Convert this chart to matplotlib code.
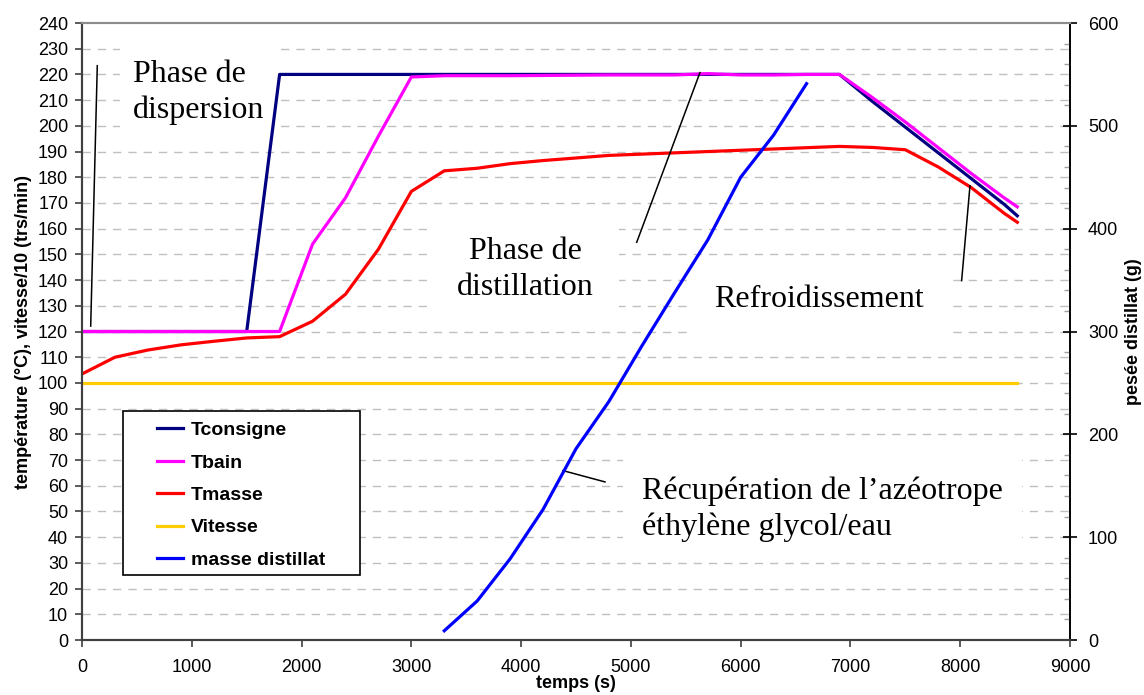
import matplotlib.pyplot as plt
from matplotlib.lines import Line2D
from matplotlib.patches import Rectangle
from matplotlib.ticker import MultipleLocator

# temps (s) pour les températures / vitesse
temps = [0, 300, 600, 900, 1200, 1500, 1800, 2100, 2400, 2700, 3000, 3300, 3600,
         3900, 4200, 4500, 4800, 5100, 5400, 5700, 6000, 6300, 6600, 6900, 7200,
         7500, 7800, 8100, 8400, 8520]
t_consigne = [120, 120, 120, 120, 120, 120, 220, 220, 220, 220, 220, 220, 220,
              220, 220, 220, 220, 220, 220, 220, 220, 220, 220, 220, 209.5,
              199.5, 189.5, 179.5, 169.5, 165]
t_bain = [120, 120, 120, 120, 120, 120, 120, 154, 172, 196, 219, 219.5, 219.5,
          219.5, 219.6, 219.7, 219.8, 219.8, 219.8, 220.3, 219.8, 219.8, 220,
          220, 211, 201.5, 191.5, 181.5, 172, 168.5]
t_masse = [103.5, 110, 112.8, 114.8, 116.2, 117.5, 118, 124, 134.5, 152, 174.5,
           182.5, 183.5, 185.3, 186.5, 187.5, 188.5, 189, 189.5, 190, 190.5,
           191, 191.5, 192, 191.6, 190.7, 184, 176, 166, 162.5]
vitesse = [100] * len(temps)

# pesée du distillat (g)
temps_dist = [3300, 3600, 3900, 4200, 4500, 4800, 5100, 5400, 5700, 6000, 6300, 6600]
masse_dist = [9, 38, 79, 127, 186, 232, 286, 338, 389, 450, 491, 541]

# annotations : texte, position (ligne de base de la dernière ligne), alignement, marge
notes = [
    ("Phase de\ndispersion", 465, 203.0, "left", 0.4),
    ("Phase de\ndistillation", 4035, 134.2, "center", 0.8),
    ("Refroidissement", 5757, 129.5, "left", 0.75),
    ("Récupération de l’azéotrope\néthylène glycol/eau", 5099, 40.8, "left", 0.6),
]
leaders = [
    ((139, 79), (223.4, 122.1)),
    ((5629, 5053), (220.7, 154.7)),
    ((8089, 8013), (176.7, 139.8)),
    ((4381, 4764), (65.9, 61.5)),
]

sans = "Liberation Sans"
serif = "Liberation Serif"
plt.rcParams["font.family"] = [sans, "DejaVu Sans"]

fig = plt.figure(figsize=(11.44, 6.95), dpi=100)
ax = fig.add_axes([0.0717, 0.0791, 0.8636, 0.8878])
ax2 = ax.twinx()

lw = 2.3
ax.plot(temps, t_consigne, color="#000080", lw=lw, zorder=2)
ax.plot(temps, t_bain, color="#FF00FF", lw=lw, zorder=2.1)
ax.plot(temps, t_masse, color="#FF0000", lw=lw, zorder=2.2)
ax.plot(temps, vitesse, color="#FFCC00", lw=lw, zorder=2.3)
ax2.plot(temps_dist, masse_dist, color="#0000FF", lw=lw)

ax.set_xlim(0, 9000)
ax.set_ylim(0, 240)
ax2.set_ylim(0, 600)
ax.xaxis.set_major_locator(MultipleLocator(1000))
ax.yaxis.set_major_locator(MultipleLocator(10))
ax2.yaxis.set_major_locator(MultipleLocator(100))
ax2.yaxis.set_minor_locator(MultipleLocator(20))

# grille horizontale en pointillés
for v in range(10, 240, 10):
    ax.axhline(v, color="#c0c0c0", lw=1, dashes=(6, 5), zorder=0.5)

ax.tick_params(axis="y", direction="out", length=5, width=1.2, color="#404040",
               labelsize=13, pad=5)
ax.tick_params(axis="x", direction="out", length=5, width=1.2, color="#404040",
               labelsize=13, pad=9)
ax2.tick_params(axis="y", which="major", direction="inout", length=10, width=1.2,
                color="black", labelsize=13, pad=8)
ax2.tick_params(axis="y", which="minor", direction="in", length=4, width=1,
                color="#a0a0a0")

for a in (ax, ax2):
    a.spines["left"].set_color("#404040")
    a.spines["left"].set_linewidth(1.5)
    a.spines["bottom"].set_color("#404040")
    a.spines["bottom"].set_linewidth(1.5)
    a.spines["top"].set_color("#8c8c8c")
    a.spines["top"].set_linewidth(1.5)
    a.spines["right"].set_color("black")
    a.spines["right"].set_linewidth(1.2)

ax.set_xlabel("temps (s)", fontsize=13, fontweight="bold", labelpad=-1)
ax.set_ylabel("température (°C), vitesse/10 (trs/min)", fontsize=13,
              fontweight="bold", labelpad=4)
ax2.set_ylabel("pesée distillat (g)", fontsize=13, fontweight="bold", labelpad=5)

# textes des phases sur fond blanc
for txt, x, y, ha, pad in notes:
    ax.text(x, y, txt, ha=ha, va="baseline", multialignment=ha,
            family=[serif, "DejaVu Serif"], fontsize=23, linespacing=1.3,
            zorder=1.5,
            bbox=dict(boxstyle=f"square,pad={pad}", facecolor="white",
                      edgecolor="none"))
for xs, ys in leaders:
    ax.plot(xs, ys, color="black", lw=1.1, zorder=3)

# légende encadrée
ax.add_patch(Rectangle((0.0415, 0.105), 0.2395, 0.266, transform=ax.transAxes,
                       facecolor="white", edgecolor="black", lw=1.2, zorder=5))
handles = [Line2D([], [], color=c, lw=lw) for c in
           ("#000080", "#FF00FF", "#FF0000", "#FFCC00", "#0000FF")]
labels = ["Tconsigne", "Tbain", "Tmasse", "Vitesse", "masse distillat"]
leg = ax.legend(handles, labels, loc="upper left", bbox_to_anchor=(0.0759, 0.354),
                frameon=False, borderpad=0, borderaxespad=0, handlelength=1.35,
                handletextpad=0.4, labelspacing=0.76,
                prop=dict(family=sans, weight="bold", size=14))
leg.set_zorder(6)

fig.savefig("out.png", dpi=100)
